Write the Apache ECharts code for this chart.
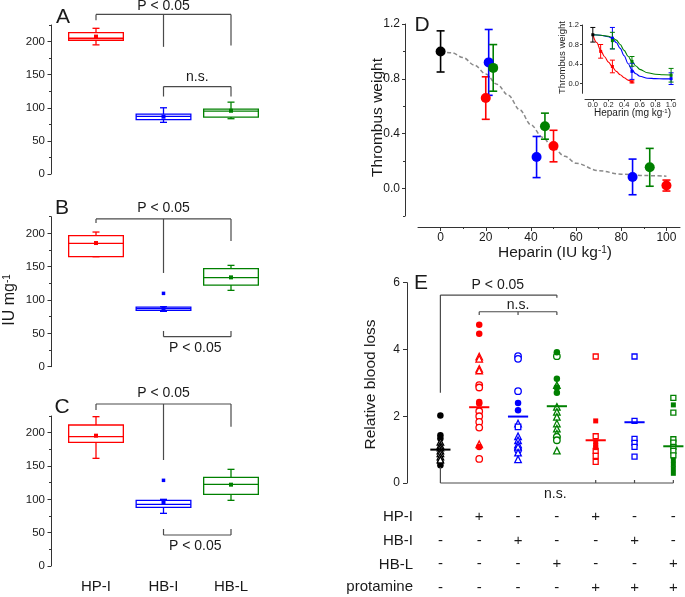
<!DOCTYPE html>
<html><head><meta charset="utf-8">
<script src="https://cdn.jsdelivr.net/npm/echarts@6/dist/echarts.min.js"></script>
<style>html,body{margin:0;padding:0;background:#fff}#c{width:685px;height:597px}</style>
</head><body><div id="c"></div>
<script>
// ---------- DATA ----------
const boxCategories = ['HP-I', 'HB-I', 'HB-L'];
// [lowWhisker, Q1, median, Q3, highWhisker]
const boxA = [[195, 202, 205, 213.5, 220], [78, 82, 87, 90.5, 100], [83.5, 86, 95, 98, 108.5]];
const meanA = [207.5, 86.5, 95.5];
const boxB = [[165, 165, 185, 196.5, 202], [83, 84.5, 87, 89.5, 90], [114.5, 122.5, 133.5, 147, 152]];
const meanB = [185.5, 88, 134];
const outlierB = [[2, 110]];
const boxC = [[161.5, 185.5, 194, 211.5, 224], [79, 88, 92.5, 98.5, 100], [98.5, 107.5, 122.5, 133, 145]];
const meanC = [195.5, 95.5, 122];
const outlierC = [[2, 128.5]];
const boxTicks = [0, 50, 100, 150, 200];
const boxMinorTicks = [25, 75, 125, 175, 225];

// significance brackets (data coordinates)
const bracketsA = [
  {xs: [1, 2, 3], y: 241, ends: [232, 192, 194], text: 'P < 0.05', tx: 2, ty: 254},
  {xs: [2, 3], y: 132, ends: [117, 117], text: 'n.s.', tx: 2.5, ty: 147}
];
const bracketsB = [
  {xs: [1, 2, 3], y: 221.6, ends: [215.6, 140.6, 188.6], text: 'P < 0.05', tx: 2, ty: 238},
  {xs: [2, 3], y: 45, ends: [53.6, 53.6], text: 'P < 0.05', tx: 2.47, ty: 28.5}
];
const bracketsC = [
  {xs: [1, 2, 3], y: 243, ends: [234, 159, 209], text: 'P < 0.05', tx: 2, ty: 260},
  {xs: [2, 3], y: 46.5, ends: [55.5, 55.5], text: 'P < 0.05', tx: 2.47, ty: 30.5}
];

// Panel D: heparin (IU/kg) vs thrombus weight
const dCtrlX = [0], dCtrlY = [1.0], dCtrlErr = [0.15];
const dRedX = [20, 50, 100], dRedY = [0.66, 0.31, 0.022], dRedErr = [0.155, 0.115, 0.04];
const dBlueX = [21.3, 42.5, 85], dBlueY = [0.92, 0.23, 0.085], dBlueErr = [0.24, 0.15, 0.13];
const dGreenX = [23.3, 46.2, 92.6], dGreenY = [0.88, 0.455, 0.155], dGreenErr = [0.17, 0.095, 0.138];
const dFitX = [0, 5, 10, 15, 20, 25, 30, 35, 40, 45, 50, 55, 60, 70, 80, 90, 100];
const dFitY = [1.0, 0.99, 0.955, 0.9, 0.835, 0.76, 0.68, 0.575, 0.465, 0.375, 0.295, 0.235, 0.185, 0.13, 0.105, 0.095, 0.09];
const dXTicks = [0, 20, 40, 60, 80, 100];
const dXMinor = [10, 30, 50, 70, 90];
const dYTicks = [0, 0.4, 0.8, 1.2];
const dYMinor = [-0.2, 0.2, 0.6, 1.0];

// Inset: heparin (mg/kg)
const iCtrlX = [0], iCtrlY = [1.0], iCtrlErr = [0.15];
const iRedX = [0.1, 0.25, 0.5], iRedY = [0.66, 0.35, 0.034], iRedErr = [0.14, 0.13, 0.02];
const iBlueX = [0.25, 0.5, 1.0], iBlueY = [0.93, 0.25, 0.1], iBlueErr = [0.22, 0.165, 0.12];
const iGreenX = [0.25, 0.5, 1.0], iGreenY = [0.88, 0.454, 0.17], iGreenErr = [0.17, 0.1, 0.14];
const iRedFitX = [0, 0.05, 0.1, 0.15, 0.2, 0.25, 0.3, 0.35, 0.4, 0.45, 0.5];
const iRedFitY = [1.0, 0.84, 0.68, 0.55, 0.44, 0.34, 0.25, 0.18, 0.12, 0.07, 0.035];
const iBlueFitX = [0, 0.1, 0.2, 0.25, 0.3, 0.35, 0.4, 0.45, 0.5, 0.55, 0.6, 0.7, 0.8, 0.9, 1.0];
const iBlueFitY = [1.0, 0.99, 0.96, 0.92, 0.84, 0.72, 0.57, 0.41, 0.28, 0.2, 0.15, 0.11, 0.1, 0.095, 0.095];
const iGreenFitX = [0, 0.1, 0.2, 0.25, 0.3, 0.35, 0.4, 0.45, 0.5, 0.55, 0.6, 0.7, 0.8, 0.9, 1.0];
const iGreenFitY = [1.0, 0.99, 0.97, 0.94, 0.89, 0.8, 0.68, 0.56, 0.45, 0.36, 0.29, 0.22, 0.19, 0.18, 0.175];
const iXTicks = [0, 0.2, 0.4, 0.6, 0.8, 1.0];
const iYTicks = [0, 0.4, 0.8, 1.2];

// Panel E: relative blood loss, groups 1..7
const eCtrlFilledCircle = [2.02, 1.43, 1.33, 0.62, 0.53];
const eCtrlOpenTriangle = [1.23, 1.13, 1.06, 0.97, 0.89, 0.79, 0.70];
const eHPIFilledCircle = [4.74, 4.47, 2.43, 2.38, 1.08];
const eHPIOpenTriangle = [3.79, 3.72, 3.42, 3.37, 1.16];
const eHPIOpenCircle = [2.93, 2.86, 2.15, 2.0, 1.83, 1.66, 0.72];
const eHBIOpenCircle = [3.80, 3.72, 2.75, 0.99];
const eHBIFilledCircle = [2.40, 2.18];
const eHBIOpenTriangle = [1.78, 1.40, 1.28, 1.16, 1.08, 0.91, 0.71];
const eHBIOpenSquare = [1.68];
const eHBLFilledCircle = [3.92, 3.12, 2.86, 2.70];
const eHBLOpenCircle = [3.80, 1.38, 1.28];
const eHBLOpenTriangle = [2.93, 2.28, 2.13, 1.98, 1.78, 1.63, 1.48, 0.97];
const eHPIProtOpenSquare = [3.79, 1.40, 0.96, 0.81, 0.63];
const eHPIProtFilledSquare = [1.86, 1.23, 1.13, 1.06];
const eHBIProtOpenSquare = [3.79, 1.86, 1.32, 1.20, 1.08, 0.79];
const eHBLProtOpenSquare = [2.55, 2.11, 1.31, 1.21, 1.08, 0.96, 0.83];
const eHBLProtFilledSquare = [2.34, 0.69, 0.56, 0.43, 0.29];
const eMeans = [1.0, 2.27, 1.99, 2.30, 1.28, 1.82, 1.10];
const eYTicks = [0, 2, 4, 6];
const bracketsE = [
  {xs: [1, 4], y: 5.63, ends: [2.70, 5.55], text: 'P < 0.05', tx: 2.48, ty: 5.93},
  {xs: [2, 3, 4], y: 5.13, ends: [5.03, 5.03, 5.03], text: 'n.s.', tx: 3.0, ty: 5.34},
  {xs: [1, 5, 6, 7], y: 0, ends: [0.48, 0.09, 0.09, 0.09], text: 'n.s.', tx: 3.96, ty: -0.33}
];
const tableLabels = ['HP-I', 'HB-I', 'HB-L', 'protamine'];
const tableHPI = ['-', '+', '-', '-', '+', '-', '-'];
const tableHBI = ['-', '-', '+', '-', '-', '+', '-'];
const tableHBL = ['-', '-', '-', '+', '-', '-', '+'];
const tableProt = ['-', '-', '-', '-', '+', '+', '+'];

// ---------- STYLE ----------
const F = '"Liberation Sans", Arial, Helvetica, sans-serif';
const RED = '#ff0000', BLUE = '#0000ff', GREEN = '#008000', BLACK = '#000000';
const BR = '#4a4a4a', AX = '#333333', TX = '#1a1a1a';
const boxColors = [RED, BLUE, GREEN];
const eColors = [BLACK, RED, BLUE, GREEN, RED, BLUE, GREEN];

const chart = echarts.init(document.getElementById('c'), null, {renderer: 'canvas'});

function grid(l, t, w, h) { return {left: l, top: t, width: w, height: h, containLabel: false, outerBoundsMode: 'none', show: false}; }
const grids = [
  grid(51, 25, 229.5, 149),
  grid(51, 216.7, 229.5, 150),
  grid(51, 416, 229.5, 150),
  grid(418, 24, 262, 192),
  grid(585, 25, 90, 68.3),
  grid(407, 282.7, 278, 200.3)
];

function hiddenX(gi, min, max) {
  return {type: 'value', gridIndex: gi, min, max, show: false, position: 'bottom', splitLine: {show: false}};
}
function valAxis(gi, pos, min, max, ticks, o) {
  return Object.assign({
    type: 'value', gridIndex: gi, position: pos, min, max,
    axisLine: {show: true, onZero: false, lineStyle: {color: AX, width: 1}},
    axisTick: {show: true, customValues: ticks, length: o.tl, lineStyle: {color: AX}},
    axisLabel: {show: true, customValues: ticks, fontSize: o.fs, color: TX, fontFamily: F, margin: o.m,
      formatter: o.fmt || (v => String(v))},
    splitLine: {show: false}
  }, o.extra || {});
}
function minorAxis(gi, pos, min, max, ticks, len, extra) {
  return Object.assign({
    type: 'value', gridIndex: gi, position: pos, min, max,
    axisLine: {show: false, onZero: false},
    axisTick: {show: true, customValues: ticks, length: len, lineStyle: {color: AX}},
    axisLabel: {show: false, customValues: ticks},
    splitLine: {show: false}
  }, extra || {});
}

const xAxes = [
  hiddenX(0, 0.3333, 3.7333),
  hiddenX(1, 0.3333, 3.7333),
  {type: 'value', gridIndex: 2, position: 'bottom', min: 0.3333, max: 3.7333,
    axisLine: {show: false, onZero: false}, axisTick: {show: false},
    splitLine: {show: false},
    axisLabel: {customValues: [1, 2, 3], fontSize: 15, color: TX, fontFamily: F, margin: 13,
      formatter: v => boxCategories[Math.round(v) - 1]}},
  valAxis(3, 'bottom', -10, 106, dXTicks, {tl: 4, fs: 12, m: 5, extra: {offset: 11}}),
  valAxis(4, 'bottom', -0.1, 1.05, iXTicks, {tl: 2, fs: 7.5, m: 2, fmt: v => v.toFixed(1), extra: {offset: 6}}),
  hiddenX(5, 0.14, 7.3),
  minorAxis(3, 'bottom', -10, 106, dXMinor, 2, {offset: 11})
];
const yAxes = [
  valAxis(0, 'left', 0, 225, boxTicks, {tl: 3.5, fs: 11.5, m: 6}),
  valAxis(1, 'left', 0, 225, boxTicks, {tl: 3.5, fs: 11.5, m: 6}),
  valAxis(2, 'left', 0, 225, boxTicks, {tl: 3.5, fs: 11.5, m: 6}),
  valAxis(3, 'left', -0.2, 1.2, dYTicks, {tl: 3, fs: 12, m: 5, fmt: v => v.toFixed(1), extra: {offset: 13}}),
  valAxis(4, 'left', -0.2, 1.2, iYTicks, {tl: 2, fs: 7.5, m: 3, fmt: v => v.toFixed(1), extra: {offset: 3}}),
  valAxis(5, 'left', 0, 6, eYTicks, {tl: 4, fs: 12, m: 7}),
  minorAxis(0, 'left', 0, 225, boxMinorTicks, 2),
  minorAxis(1, 'left', 0, 225, boxMinorTicks, 2),
  minorAxis(2, 'left', 0, 225, boxMinorTicks, 2),
  minorAxis(3, 'left', -0.2, 1.2, dYMinor, 2, {offset: 13})
];

function boxSeries(gi, stats, means) {
  return {
    type: 'custom', xAxisIndex: gi, yAxisIndex: gi, clip: false, silent: true, z: 3,
    data: stats.map((s, i) => [i + 1].concat(s, [means[i]])),
    renderItem(params, api) {
      const x = api.value(0);
      const c = boxColors[params.dataIndex];
      const hw = api.size([0.81, 0])[0] / 2;
      const pLo = api.coord([x, api.value(1)]), pQ1 = api.coord([x, api.value(2)]),
        pMd = api.coord([x, api.value(3)]), pQ3 = api.coord([x, api.value(4)]),
        pHi = api.coord([x, api.value(5)]), pMn = api.coord([x, api.value(6)]);
      const st = {stroke: c, lineWidth: 1.3, fill: null};
      const ln = (x1, y1, x2, y2) => ({type: 'line', shape: {x1, y1, x2, y2}, style: st});
      const cx = pMd[0], cap = 3.5;
      return {type: 'group', children: [
        {type: 'rect', shape: {x: cx - hw, y: pQ3[1], width: 2 * hw, height: pQ1[1] - pQ3[1]}, style: {stroke: c, lineWidth: 1.3, fill: 'rgba(0,0,0,0)'}},
        ln(cx - hw, pMd[1], cx + hw, pMd[1]),
        ln(cx, pQ3[1], cx, pHi[1]),
        ln(cx, pQ1[1], cx, pLo[1]),
        ln(cx - cap, pHi[1], cx + cap, pHi[1]),
        ln(cx - cap, pLo[1], cx + cap, pLo[1]),
        {type: 'rect', shape: {x: cx - 2, y: pMn[1] - 2, width: 4, height: 4}, style: {fill: c}}
      ]};
    }
  };
}

function bracketSeries(gi, list, fs) {
  return {
    type: 'custom', xAxisIndex: gi, yAxisIndex: gi, clip: false, silent: true, z: 5,
    data: list.map(b => [b.tx, b.ty]),
    renderItem(params, api) {
      const b = list[params.dataIndex];
      const st = {stroke: BR, lineWidth: 1.2};
      const ch = [];
      const L = api.coord([b.xs[0], b.y]), R = api.coord([b.xs[b.xs.length - 1], b.y]);
      ch.push({type: 'line', shape: {x1: L[0], y1: L[1], x2: R[0], y2: R[1]}, style: st});
      b.xs.forEach((x, k) => {
        const p = api.coord([x, b.y]), q = api.coord([x, b.ends[k]]);
        ch.push({type: 'line', shape: {x1: p[0], y1: p[1], x2: q[0], y2: q[1]}, style: st});
      });
      const t = api.coord([b.tx, b.ty]);
      ch.push({type: 'text', x: t[0], y: t[1], style: {text: b.text, fill: TX, fontSize: fs, fontFamily: F,
        align: 'center', verticalAlign: 'middle', textAlign: 'center', textVerticalAlign: 'middle'}});
      return {type: 'group', children: ch};
    }
  };
}

function errSeries(gi, xs, ys, es, color, cap, lw) {
  return {
    type: 'custom', xAxisIndex: gi, yAxisIndex: gi, clip: false, silent: true, z: 3,
    data: xs.map((x, i) => [x, ys[i], es[i]]),
    renderItem(params, api) {
      const x = api.value(0), y = api.value(1), e = api.value(2);
      const t = api.coord([x, y + e]), b = api.coord([x, y - e]);
      const st = {stroke: color, lineWidth: lw};
      return {type: 'group', children: [
        {type: 'line', shape: {x1: t[0], y1: t[1], x2: b[0], y2: b[1]}, style: st},
        {type: 'line', shape: {x1: t[0] - cap, y1: t[1], x2: t[0] + cap, y2: t[1]}, style: st},
        {type: 'line', shape: {x1: b[0] - cap, y1: b[1], x2: b[0] + cap, y2: b[1]}, style: st}
      ]};
    }
  };
}

function pts(gi, xs, ys, color, symbol, size) {
  return {type: 'scatter', xAxisIndex: gi, yAxisIndex: gi, silent: true, z: 4, symbol, symbolSize: size,
    itemStyle: {color, opacity: 1}, data: xs.map((x, i) => [x, ys[i]])};
}
function eGroup(x, ys, color, symbol, filled, size) {
  return {type: 'scatter', xAxisIndex: 5, yAxisIndex: 5, silent: true, z: 4, symbol, symbolSize: size,
    itemStyle: filled ? {color, opacity: 1} : {color: '#ffffff', borderColor: color, borderWidth: 1.3, opacity: 1},
    data: ys.map(y => [x, y])};
}
function fitLine(gi, xs, ys, color, width, dashed) {
  return {type: 'line', xAxisIndex: gi, yAxisIndex: gi, silent: true, z: 2, smooth: 0.35, smoothMonotone: 'x',
    symbol: 'none', showSymbol: false,
    lineStyle: {color, width, type: dashed ? [4, 2.5] : 'solid'},
    data: xs.map((x, i) => [x, ys[i]])};
}

const series = [
  boxSeries(0, boxA, meanA), boxSeries(1, boxB, meanB), boxSeries(2, boxC, meanC),
  pts(1, outlierB.map(p => p[0]), outlierB.map(p => p[1]), BLUE, 'rect', 3.5),
  pts(2, outlierC.map(p => p[0]), outlierC.map(p => p[1]), BLUE, 'rect', 3.5),
  bracketSeries(0, bracketsA, 14), bracketSeries(1, bracketsB, 14), bracketSeries(2, bracketsC, 14),
  // D
  fitLine(3, dFitX, dFitY, '#8a8a8a', 1.5, true),
  errSeries(3, dCtrlX, dCtrlY, dCtrlErr, BLACK, 4, 1.6),
  errSeries(3, dRedX, dRedY, dRedErr, RED, 4, 1.6),
  errSeries(3, dBlueX, dBlueY, dBlueErr, BLUE, 4, 1.6),
  errSeries(3, dGreenX, dGreenY, dGreenErr, GREEN, 4, 1.6),
  pts(3, dCtrlX, dCtrlY, BLACK, 'circle', 10),
  pts(3, dRedX, dRedY, RED, 'circle', 10),
  pts(3, dBlueX, dBlueY, BLUE, 'circle', 10),
  pts(3, dGreenX, dGreenY, GREEN, 'circle', 10),
  // inset
  fitLine(4, iRedFitX, iRedFitY, RED, 1.1, false),
  fitLine(4, iBlueFitX, iBlueFitY, BLUE, 1.1, false),
  fitLine(4, iGreenFitX, iGreenFitY, GREEN, 1.1, false),
  errSeries(4, iCtrlX, iCtrlY, iCtrlErr, BLACK, 2.5, 1),
  errSeries(4, iRedX, iRedY, iRedErr, RED, 2.5, 1),
  errSeries(4, iBlueX, iBlueY, iBlueErr, BLUE, 2.5, 1),
  errSeries(4, iGreenX, iGreenY, iGreenErr, GREEN, 2.5, 1),
  pts(4, iCtrlX, iCtrlY, BLACK, 'rect', 3),
  pts(4, iRedX, iRedY, RED, 'rect', 3),
  pts(4, iBlueX, iBlueY, BLUE, 'rect', 3),
  pts(4, iGreenX, iGreenY, GREEN, 'rect', 3),
  // E
  eGroup(1, eCtrlFilledCircle, BLACK, 'circle', true, 6.5),
  eGroup(1, eCtrlOpenTriangle, BLACK, 'triangle', false, 6.5),
  eGroup(2, eHPIOpenCircle, RED, 'circle', false, 6.5),
  eGroup(2, eHPIOpenTriangle, RED, 'triangle', false, 6.5),
  eGroup(2, eHPIFilledCircle, RED, 'circle', true, 6.5),
  eGroup(3, eHBIOpenCircle, BLUE, 'circle', false, 6.5),
  eGroup(3, eHBIOpenTriangle, BLUE, 'triangle', false, 6.5),
  eGroup(3, eHBIOpenSquare, BLUE, 'rect', false, 5.5),
  eGroup(3, eHBIFilledCircle, BLUE, 'circle', true, 6.5),
  eGroup(4, eHBLOpenTriangle, GREEN, 'triangle', false, 6.5),
  eGroup(4, eHBLOpenCircle, GREEN, 'circle', false, 6.5),
  eGroup(4, eHBLFilledCircle, GREEN, 'circle', true, 6.5),
  eGroup(5, eHPIProtOpenSquare, RED, 'rect', false, 5),
  eGroup(5, eHPIProtFilledSquare, RED, 'rect', true, 5),
  eGroup(6, eHBIProtOpenSquare, BLUE, 'rect', false, 5),
  eGroup(7, eHBLProtOpenSquare, GREEN, 'rect', false, 5),
  eGroup(7, eHBLProtFilledSquare, GREEN, 'rect', true, 5),
  {
    type: 'custom', xAxisIndex: 5, yAxisIndex: 5, clip: false, silent: true, z: 6,
    data: eMeans.map((m, i) => [i + 1, m]),
    renderItem(params, api) {
      const p = api.coord([api.value(0), api.value(1)]);
      const hw = api.size([0.52, 0])[0] / 2;
      return {type: 'line', shape: {x1: p[0] - hw, y1: p[1], x2: p[0] + hw, y2: p[1]},
        style: {stroke: eColors[params.dataIndex], lineWidth: 2}};
    }
  },
  bracketSeries(5, bracketsE, 14),
  {
    type: 'custom', xAxisIndex: 5, yAxisIndex: 5, clip: false, silent: true, z: 5,
    data: [tableHPI, tableHBI, tableHBL, tableProt].flatMap((row, r) => row.map((s, c) => [c + 1, r])),
    renderItem(params, api) {
      const c = api.value(0), r = api.value(1);
      const rows = [tableHPI, tableHBI, tableHBL, tableProt];
      const p = api.coord([c, 0]);
      return {type: 'text', x: p[0], y: p[1] + 34.3 + r * 23.4,
        style: {text: rows[r][c - 1], fill: TX, fontSize: 15, fontFamily: F,
          align: 'center', verticalAlign: 'middle', textAlign: 'center', textVerticalAlign: 'middle'}};
    }
  }
];

function txt(x, y, text, fs, opts) {
  const o = opts || {};
  return {type: 'text', x, y, rotation: o.rot || 0, silent: true, z: 10,
    style: Object.assign({text, fill: TX, fontSize: fs, fontFamily: F,
      align: o.align || 'center', verticalAlign: 'middle',
      textAlign: o.align || 'center', textVerticalAlign: 'middle'}, o.rich ? {rich: o.rich} : {})};
}
const supRich = fs => ({a: {fontSize: fs, fontFamily: F, fill: TX}, s: {fontSize: Math.round(fs * 0.62), fontFamily: F, fill: TX, verticalAlign: 'top'}});

const graphic = [
  txt(63, 17, 'A', 21), txt(62, 208, 'B', 21), txt(62, 407, 'C', 21),
  txt(422, 25, 'D', 21), txt(421, 283, 'E', 21),
  txt(10, 300, '{a|IU mg}{s|-1}', 16, {rot: Math.PI / 2, rich: supRich(16)}),
  txt(377.5, 117.5, 'Thrombus weight', 15.5, {rot: Math.PI / 2}),
  txt(555, 253, '{a|Heparin (IU kg}{s|-1}{a|)}', 15.5, {rich: supRich(15.5)}),
  txt(562.5, 57.5, 'Thrombus weight', 9.5, {rot: Math.PI / 2}),
  txt(632.5, 113, '{a|Heparin (mg kg}{s|-1}{a|)}', 10, {rich: supRich(10)}),
  txt(371, 384.5, 'Relative blood loss', 15.5, {rot: Math.PI / 2}),
  txt(413, 517.3, tableLabels[0], 15, {align: 'right'}),
  txt(413, 540.7, tableLabels[1], 15, {align: 'right'}),
  txt(413, 565, tableLabels[2], 15, {align: 'right'}),
  txt(413, 587.3, tableLabels[3], 15, {align: 'right'})
];

chart.setOption({
  animation: false,
  backgroundColor: '#ffffff',
  textStyle: {fontFamily: F},
  grid: grids,
  xAxis: xAxes,
  yAxis: yAxes,
  series,
  graphic
});
</script>
</body></html>
